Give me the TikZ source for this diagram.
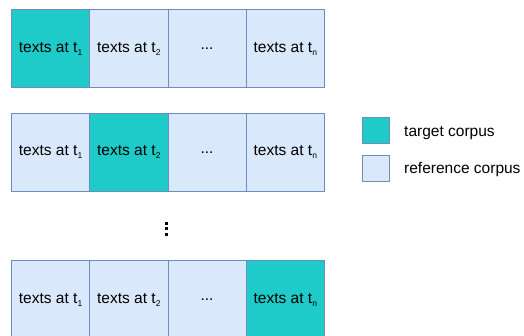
\documentclass[tikz,border=0pt]{standalone}
\usepackage{fontspec}
\setmainfont{Liberation Sans}
\definecolor{teal1}{RGB}{30,203,200}
\definecolor{lblue}{RGB}{218,232,252}
\definecolor{bblue}{RGB}{108,142,191}
\newcommand{\sbs}[1]{\raisebox{-0.35ex}{\fontsize{8.5}{9}\selectfont #1}}
\begin{document}
\begin{tikzpicture}[x=1pt,y=-1pt,
  cell/.style={draw=bblue,line width=0.9pt,minimum width=78.25pt,minimum height=78.25pt,inner sep=0pt,anchor=north west,font=\fontsize{15.5}{18}\selectfont},
  tgt/.style={cell,fill=teal1},
  refc/.style={cell,fill=lblue},
  leg/.style={draw=bblue,line width=0.9pt,minimum width=27pt,minimum height=26pt,inner sep=0pt},
  legtxt/.style={anchor=west,inner sep=0pt,font=\fontsize{15.5}{18}\selectfont},
  dot/.style={fill=black,minimum size=3pt,inner sep=0pt}]
\useasboundingbox (0,0) rectangle (524,335);
% row 1
\node[tgt]  (a1) at (11,9) {texts at t\sbs{1}};
\node[refc] (a2) at (89.25,9) {texts at t\sbs{2}};
\node[refc] (a3) at (167.5,9) {...};
\node[refc] (a4) at (245.75,9) {texts at t\sbs{n}};
% row 2
\node[refc] (b1) at (11,112.75) {texts at t\sbs{1}};
\node[tgt]  (b2) at (89.25,112.75) {texts at t\sbs{2}};
\node[refc] (b3) at (167.5,112.75) {...};
\node[refc] (b4) at (245.75,112.75) {texts at t\sbs{n}};
% dots
\node[dot] (d1) at (166.7,223) {};
\node[dot] (d2) at (166.7,228.5) {};
\node[dot] (d3) at (166.7,234) {};
% row 3
\node[refc] (c1) at (11,260) {texts at t\sbs{1}};
\node[refc] (c2) at (89.25,260) {texts at t\sbs{2}};
\node[refc] (c3) at (167.5,260) {...};
\node[tgt]  (c4) at (245.75,260) {texts at t\sbs{n}};
% legend
\node[leg,fill=teal1] (l1) at (376.3,130) {};
\node[leg,fill=lblue] (l2) at (376.3,168.8) {};
\node[legtxt] (t1) at (404,133) {target corpus};
\node[legtxt] (t2) at (404,169) {reference corpus};
\end{tikzpicture}
\end{document}
